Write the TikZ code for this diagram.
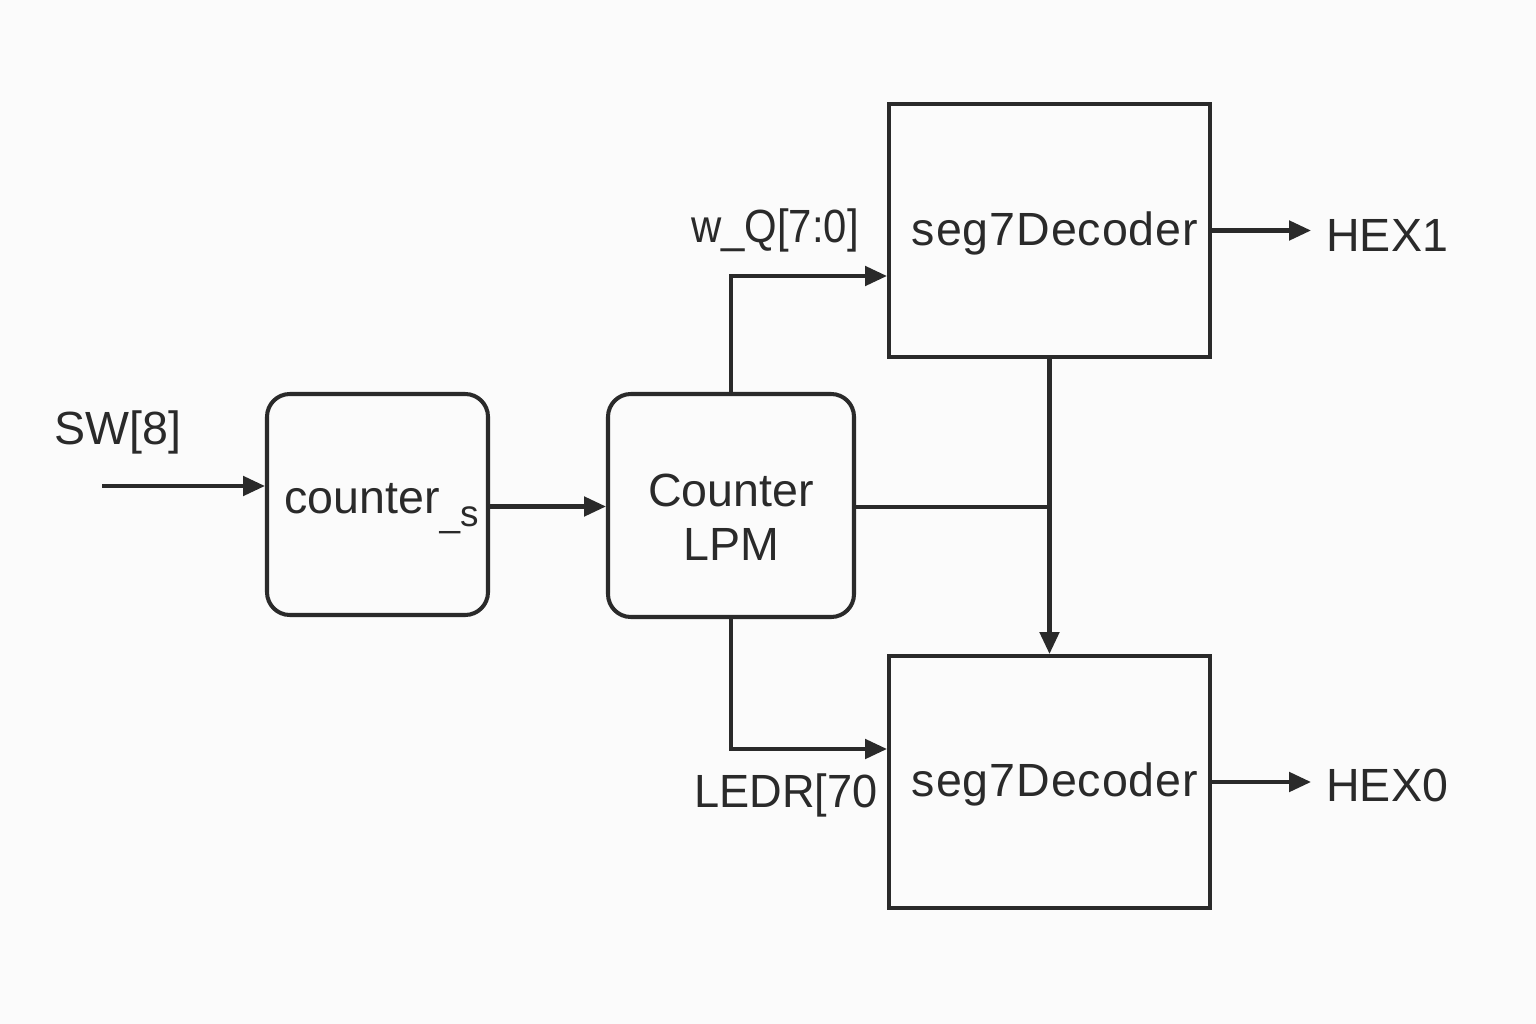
\documentclass[tikz,border=0pt]{standalone}
\usepackage{fontspec}
\setmainfont{Liberation Sans}
\usetikzlibrary{arrows.meta,calc}
\definecolor{ink}{HTML}{2A2A2A}
\definecolor{bg}{HTML}{FBFBFB}
\begin{document}
\begin{tikzpicture}[x=0.02cm,y=-0.02cm,
  ink/.style={draw=ink,line width=2.3pt},
  rbox/.style={ink,rounded corners=13pt,align=center,text=ink,inner sep=0pt},
  sbox/.style={ink,align=center,text=ink,inner sep=0pt},
  wire/.style={draw=ink,line width=2.3pt},
  arr/.style={wire,-{Triangle[length=12.5pt,width=11pt]}},
  lbl/.style={text=ink,inner sep=0pt},
  font=\fontsize{26.5pt}{30pt}\selectfont]
\fill[bg] (0,0) rectangle (1536,1024);
\useasboundingbox (0,0) rectangle (1536,1024);

\node[rbox,minimum width=221*0.02cm,minimum height=221*0.02cm] (cs) at (377.5,504.5) {};
\node[lbl,anchor=base west] (cstext) at (284,513) {counter\raisebox{-0.28em}{\fontsize{21pt}{22pt}\selectfont\_s}};
\node[rbox,minimum width=246*0.02cm,minimum height=223*0.02cm] (lpm) at (731,505.5) {};
\node[lbl,align=center,font=\fontsize{26.5pt}{30.5pt}\selectfont] (lpmtext) at (731,517) {Counter\\LPM};
\node[sbox,minimum width=321*0.02cm,minimum height=253*0.02cm] (t) at (1049.5,230.5) {};
\node[lbl] (ttext) at (1055,233) {\addfontfeature{LetterSpace=2}seg7Decoder};
\node[sbox,minimum width=321*0.02cm,minimum height=252*0.02cm] (b) at (1049.5,782) {};
\node[lbl] (btext) at (1055,784) {\addfontfeature{LetterSpace=2}seg7Decoder};

\node[lbl] (swl) at (118,432) {SW[8]};
\node[lbl] (wql) at (775,230) {\scalebox{0.9}[1]{w\_Q[7:0]}};
\node[lbl] (ledl) at (786,795) {\scalebox{0.97}[1]{LEDR[70}};
\node[lbl,anchor=west] (hex1) at (1326,235) {HEX1};
\node[lbl,anchor=west] (hex0) at (1326,785) {HEX0};

\coordinate (sw) at (102,486);
\coordinate (h1) at (1311,230.5);
\coordinate (h0) at (1311,782);

\draw[arr] (sw) -- (sw -| cs.west);
\draw[arr] ($(cs.east)+(0,2)$) -- ($(cs.east -| lpm.west)+(0,2)$);
\draw[arr] (lpm.north) |- ($(t.west)+(0,45.5)$);
\draw[arr] (lpm.south) |- ($(b.west)+(0,-33)$);
\draw[wire] ($(lpm.east)+(0,1.5)$) -- ($(lpm.east -| t.south)+(0,1.5)$);
\draw[arr] (t.south) -- (b.north);
\draw[arr] (t.east) -- (h1);
\draw[arr] (b.east) -- (h0);
\end{tikzpicture}
\end{document}
